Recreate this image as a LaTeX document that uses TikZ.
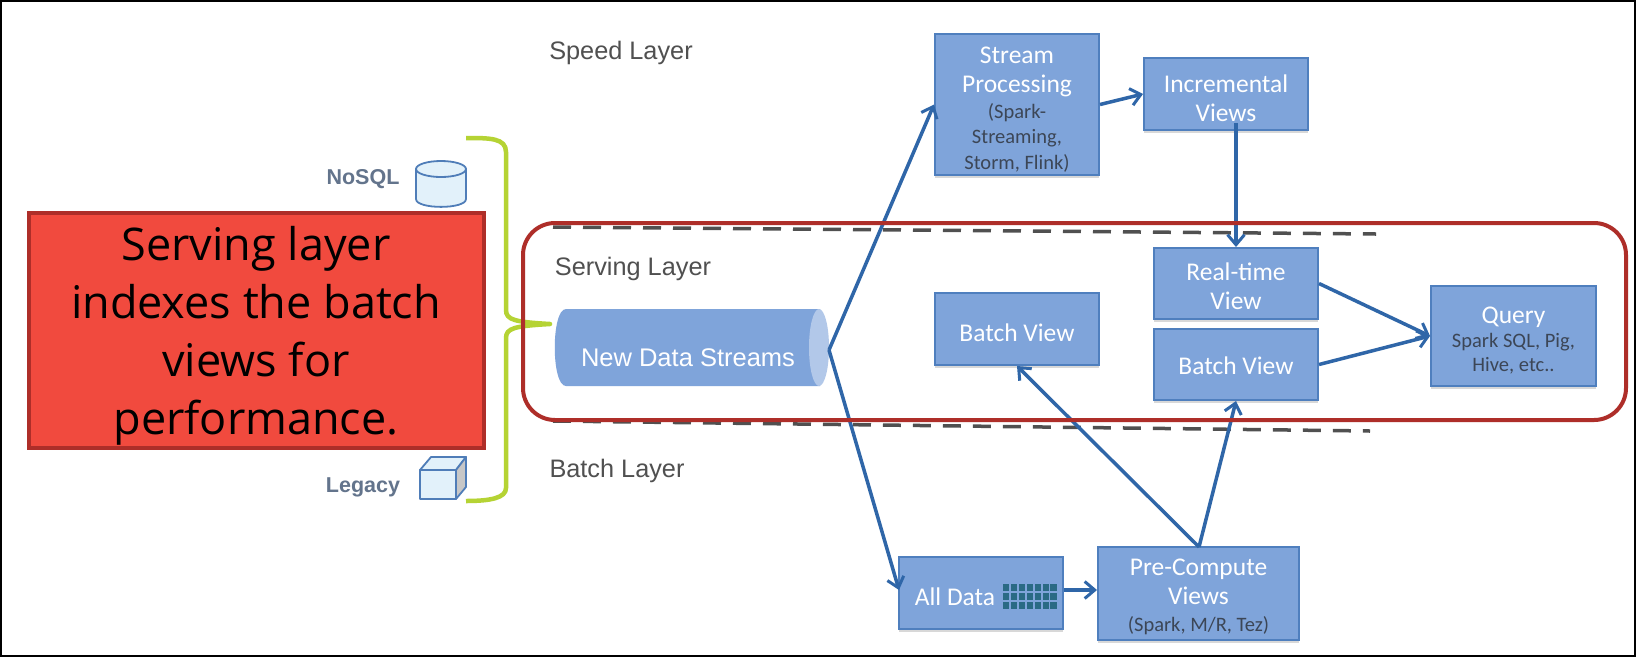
\documentclass[tikz,border=0pt]{standalone}
\usepackage{fontspec}
\setmainfont{Carlito}
\newfontfamily\lib{Liberation Sans}
\newfontfamily\calloutfont{Open Sans}
\usetikzlibrary{arrows.meta,shadows,calc}
\definecolor{boxfill}{HTML}{7FA4DA}
\definecolor{boxedge}{HTML}{4F7FBE}
\definecolor{arrowblue}{HTML}{2F66A8}
\definecolor{callred}{HTML}{F14A3E}
\definecolor{darkred}{HTML}{AE2E29}
\definecolor{limeg}{HTML}{B5D334}
\definecolor{darktxt}{HTML}{3C4656}
\definecolor{greytxt}{HTML}{505050}
\definecolor{slatetxt}{HTML}{63748C}
\definecolor{iconfill}{HTML}{E2F1FA}
\definecolor{iconedge}{HTML}{4F7DB8}
\definecolor{gridc}{HTML}{2A6A84}
\newcommand{\dk}[1]{{\fontsize{20.5}{25}\selectfont\color{darktxt}#1}}
\newcommand{\up}[1]{\rule{0pt}{#1pt}}
\tikzset{
  x=1pt,y=-1pt,
  bluebox/.style={draw=boxedge,line width=2pt,fill=boxfill,inner sep=0pt,align=center,text=white,
    font=\fontsize{25.5}{29}\selectfont,
    drop shadow={shadow xshift=0pt,shadow yshift=-3pt,opacity=.3}},
  flow/.style={draw=arrowblue,line width=3.5pt,-{Straight Barb[length=10pt,width=17pt,line width=3pt]}},
  layerlabel/.style={font=\lib\fontsize{25.3}{30}\selectfont,text=greytxt,inner sep=0pt},
  iconlabel/.style={font=\lib\bfseries\fontsize{21.5}{26}\selectfont,text=slatetxt,inner sep=0pt},
  dashline/.style={draw=greytxt,line width=3.5pt,dash pattern=on 18pt off 12pt},
  icon/.style={draw=iconedge,fill=iconfill,line width=1.8pt,line join=round},
}
\begin{document}
\begin{tikzpicture}
\useasboundingbox (0,0) rectangle (1636,657);
\fill[white] (0,0) rectangle (1636,657);
\draw[black,line width=2pt] (1,1) rectangle (1635,656);

% layer separators
\coordinate (dashTopL) at (553,227);
\coordinate (dashTopR) at (1376,234);
\coordinate (dashBotL) at (553,421);
\coordinate (dashBotR) at (1370,431);
\draw[dashline] (dashTopL) -- (dashTopR);
\draw[dashline] (dashBotL) -- (dashBotR);

% bracket
\coordinate (brTop) at (466,138);
\coordinate (brBot) at (466,501);
\coordinate (brTip) at (550,324);
\draw[limeg,line width=4.5pt,line join=round]
  (brTop) .. controls (490,138) and (506,138) .. (506,152) -- (506,310)
  .. controls (506,320) and (515,322) .. (brTip)
  .. controls (515,326) and (506,328) .. (506,338) -- (506,488)
  .. controls (506,498) and (490,501) .. (brBot);

% labels
\node[layerlabel] (speed) at (621,53) {Speed Layer};
\node[layerlabel] (serving) at (633,269) {Serving Layer};
\node[layerlabel] (batch) at (617,471) {Batch Layer};
\node[iconlabel] (nosql) at (363,179) {NoSQL};
\node[iconlabel] (legacy) at (363,487) {Legacy};

% database icon
\draw[icon] (416,169) -- (416,199) .. controls (416,209.5) and (466,209.5) .. (466,199) -- (466,169) -- cycle;
\draw[icon] (441,169) ellipse[x radius=25,y radius=8];
% cube icon
\draw[icon] (420,470) rectangle (456,499);
\draw[icon] (420,470) -- (431,457) -- (466,457) -- (456,470) -- cycle;
\draw[draw=iconedge,fill=black!22,line width=1.8pt,line join=round] (456,470) -- (466,457) -- (466,487) -- (456,499) -- cycle;

% cylinder
\fill[boxfill] (566,309) -- (820,309) -- (820,386) -- (566,386) .. controls (551,386) and (551,309) .. (566,309) -- cycle;
\fill[boxfill!60!white] (819,347.5) ellipse[x radius=10,y radius=38.5];
\node[inner sep=0pt,text=white,font=\lib\fontsize{25.5}{30}\selectfont] (streams) at (688,358) {New Data Streams};

% boxes
\node[bluebox,minimum width=164pt,minimum height=141pt] (stream) at (1017,104.5)
 {\up{27}Stream\\Processing\\[-3pt]\dk{(Spark-}\\[-4pt]\dk{Streaming,}\\[-3pt]\dk{Storm, Flink)}};
\node[bluebox,minimum width=164pt,minimum height=72pt] (incr) at (1226,94)
 {\up{27}Incremental\\Views};
\node[bluebox,minimum width=164pt,minimum height=71pt] (rt) at (1236,283.5)
 {\up{23}Real-time\\View};
\node[bluebox,minimum width=164pt,minimum height=71pt] (bv2) at (1236,364.5)
 {\up{21}Batch View};
\node[bluebox,minimum width=164pt,minimum height=72pt] (bv1) at (1017,329)
 {\up{25}Batch View};
\node[bluebox,minimum width=165pt,minimum height=100pt] (query) at (1513.5,336)
 {\up{25}Query\\[-5pt]\dk{Spark SQL, Pig,}\\[-5pt]\dk{Hive, etc..}};
\node[bluebox,minimum width=164pt,minimum height=72pt] (alld) at (981,593)
 {\up{25}\hspace*{-52pt}All Data};
\node[bluebox,minimum width=201pt,minimum height=93pt] (pre) at (1198.5,593.5)
 {\up{23}Pre-Compute\\Views\\[-2pt]\dk{(Spark, M/R, Tez)}};
\foreach \c in {0,...,6}\foreach \r in {0,1,2}
  \fill[gridc] ({1003+\c*7.9},{584+\r*9}) rectangle +(6.2,7);

% connectors
\coordinate (srcOut) at (829,350);
\coordinate (allIn) at (899,590);
\coordinate (preTop) at (1199,547);
\draw[flow] (srcOut) -- (stream.west);
\draw[flow] (srcOut) -- (allIn);
\draw[flow] (stream.east) -- (incr.west);
\draw[flow] ($(incr.south)+(10,-8)$) -- (rt.north);
\draw[flow] (rt.east) -- (query.west);
\draw[flow] (bv2.east) -- (query.west);
\draw[flow] (alld.east |- allIn) -- (pre.west |- allIn);
\draw[flow] (preTop) -- (bv1.south);
\draw[flow] (preTop) -- (bv2.south);

% serving highlight
\draw[darkred,line width=4pt,rounded corners=32pt] (523,223) rectangle (1626,420);

% callout
\node[draw=darkred,line width=4pt,fill=callred,minimum width=455pt,minimum height=235pt,inner sep=0pt,align=center,text=black,
  font=\calloutfont\fontsize{45}{58}\selectfont] (callout) at (256,330)
 {\up{46}Serving layer\\indexes the batch\\views for\\performance.};
\end{tikzpicture}
\end{document}
